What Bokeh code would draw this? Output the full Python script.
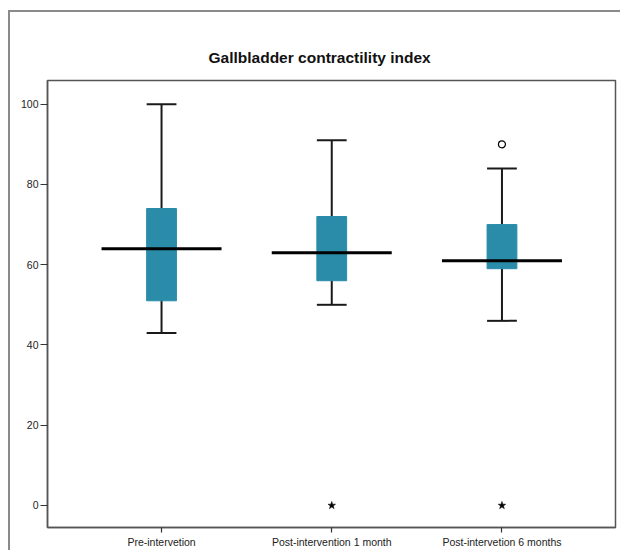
from bokeh.plotting import figure
from bokeh.models import FixedTicker, ColumnDataSource
from bokeh.embed import file_html
from bokeh.resources import INLINE

# ---- data ----
categories = ["Pre-intervetion", "Post-intervention 1 month", "Post-intervetion 6 months"]
q1 = [51, 56, 59]
median = [64, 63, 61]
q3 = [74, 72, 70]
whisker_low = [43, 50, 46]
whisker_high = [100, 91, 84]
outlier_group = ["Post-intervetion 6 months"]
outlier_value = [90]
extreme_group = ["Post-intervention 1 month", "Post-intervetion 6 months"]
extreme_value = [0, 0]
y_ticks = [0, 20, 40, 60, 80, 100]

pos = {c: i + 1 for i, c in enumerate(categories)}
xs = [pos[c] for c in categories]

BOX_W = 0.175
MED_HALF = 0.3525
CAP_HALF = BOX_W / 2
TEAL = "#2a8ca9"

src = ColumnDataSource(dict(
    x=xs, q1=q1, q3=q3, med=median, lo=whisker_low, hi=whisker_high,
    cap_l=[x - CAP_HALF for x in xs], cap_r=[x + CAP_HALF for x in xs],
    med_l=[x - MED_HALF for x in xs], med_r=[x + MED_HALF for x in xs],
))

p = figure(width=612, height=540, x_range=(0.33, 3.667), y_range=(-5.5, 105.9),
           output_backend="svg", toolbar_location=None,
           min_border_left=37, min_border_right=7, min_border_top=68, min_border_bottom=25,
           title="Gallbladder contractility index")
p.margin = (10, 0, 0, 8)
p.styles = {"border-left": "2px solid #8a8a8a", "border-top": "2px solid #8a8a8a"}

p.title.align = "left"
p.title.text_font = "Liberation Sans"
p.title.text_font_size = "15.5px"
p.title.text_font_style = "bold"
p.title.text_color = "#111111"
p.title.standoff = 30
p.title.offset = 161

p.xgrid.visible = False
p.ygrid.visible = False
p.background_fill_color = "white"
p.border_fill_color = "white"
p.outline_line_color = "#555555"
p.outline_line_width = 1.5

# whiskers
p.segment(x0="x", y0="lo", x1="x", y1="hi", source=src, line_color="#1a1a1a", line_width=2)
# boxes
p.vbar(x="x", width=BOX_W, bottom="q1", top="q3", source=src,
       fill_color=TEAL, line_color=TEAL, line_width=1)
# caps
p.segment(x0="cap_l", y0="hi", x1="cap_r", y1="hi", source=src, line_color="#1a1a1a", line_width=2)
p.segment(x0="cap_l", y0="lo", x1="cap_r", y1="lo", source=src, line_color="#1a1a1a", line_width=2)
# medians
p.segment(x0="med_l", y0="med", x1="med_r", y1="med", source=src, line_color="black", line_width=3)

# outliers
p.scatter(x=[pos[g] for g in outlier_group], y=outlier_value, marker="circle", size=7,
          fill_color="white", line_color="black", line_width=1.2)
p.scatter(x=[pos[g] for g in extreme_group], y=extreme_value, marker="star", size=8,
          fill_color="black", line_color="black", line_width=0.5)

# axes
for ax in (p.xaxis[0], p.yaxis[0]):
    ax.axis_line_color = "#555555"
    ax.axis_line_width = 1.5
    ax.major_tick_line_color = "#333333"
    ax.major_tick_line_width = 1.2
    ax.minor_tick_line_color = None
    ax.major_tick_in = 0
    ax.major_label_text_font = "Liberation Sans"
    ax.major_label_text_font_size = "10.5px"
    ax.major_label_text_color = "#222222"

p.xaxis.ticker = FixedTicker(ticks=xs)
p.xaxis.major_label_overrides = {x: c for x, c in zip(xs, categories)}
p.xaxis.major_tick_out = 5
p.xaxis.major_label_standoff = 3

p.yaxis.ticker = FixedTicker(ticks=y_ticks)
p.yaxis.major_tick_out = 7
p.yaxis.major_label_standoff = 2

open("out.html", "w").write(file_html(p, INLINE))
